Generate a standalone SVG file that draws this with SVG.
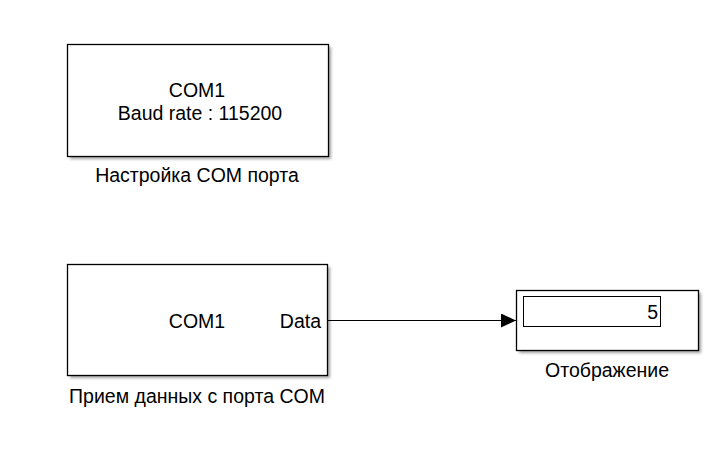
<svg xmlns="http://www.w3.org/2000/svg" width="727" height="455" viewBox="0 0 727 455">
<style>
text{font-family:"Liberation Sans",Arial,sans-serif;font-size:19.5px;fill:#000}
.blk{fill:#fff;stroke:#000;stroke-width:1.3}
.shd{fill:#a0a0a0;stroke:none;filter:url(#soft)}
.c{text-anchor:middle}
.r{text-anchor:end}
</style>
<defs>
<filter id="soft" x="-10%" y="-10%" width="120%" height="130%">
<feGaussianBlur stdDeviation="1.5"/>
</filter>
<marker id="arr" markerWidth="16" markerHeight="14" refX="15" refY="7" orient="auto" markerUnits="userSpaceOnUse">
<path d="M0,0 L15,7 L0,14 Z" fill="#000"/>
</marker>
</defs>
<rect width="727" height="455" fill="#fff"/>
<g id="com-config">
<rect class="shd" x="70" y="47" width="261" height="112"/>
<rect class="blk" x="67.5" y="44.5" width="261" height="112"/>
<text class="c" x="197" y="97">COM1</text>
<text class="c" x="200" y="120">Baud rate : 115200</text>
<text class="c" x="197" y="182">Настройка COM порта</text>
</g>
<g id="com-receive">
<rect class="shd" x="70" y="267" width="260" height="111"/>
<rect class="blk" x="67.5" y="264.5" width="260" height="111"/>
<text class="c" x="197" y="328">COM1</text>
<text class="r" x="321" y="328">Data</text>
<text class="c" x="197" y="403">Прием данных с порта COM</text>
</g>
<g id="display">
<rect class="shd" x="519" y="293" width="182" height="60"/>
<rect class="blk" x="516.5" y="290.5" width="182" height="60"/>
<rect fill="#fff" stroke="#000" stroke-width="1" x="523.5" y="296.5" width="137" height="30"/>
<text class="r" x="658" y="319">5</text>
<text class="c" x="607" y="377">Отображение</text>
</g>
<g id="connectors">
<line x1="328" y1="320.5" x2="516" y2="320.5" stroke="#000" stroke-width="1" marker-end="url(#arr)"/>
</g>
</svg>
